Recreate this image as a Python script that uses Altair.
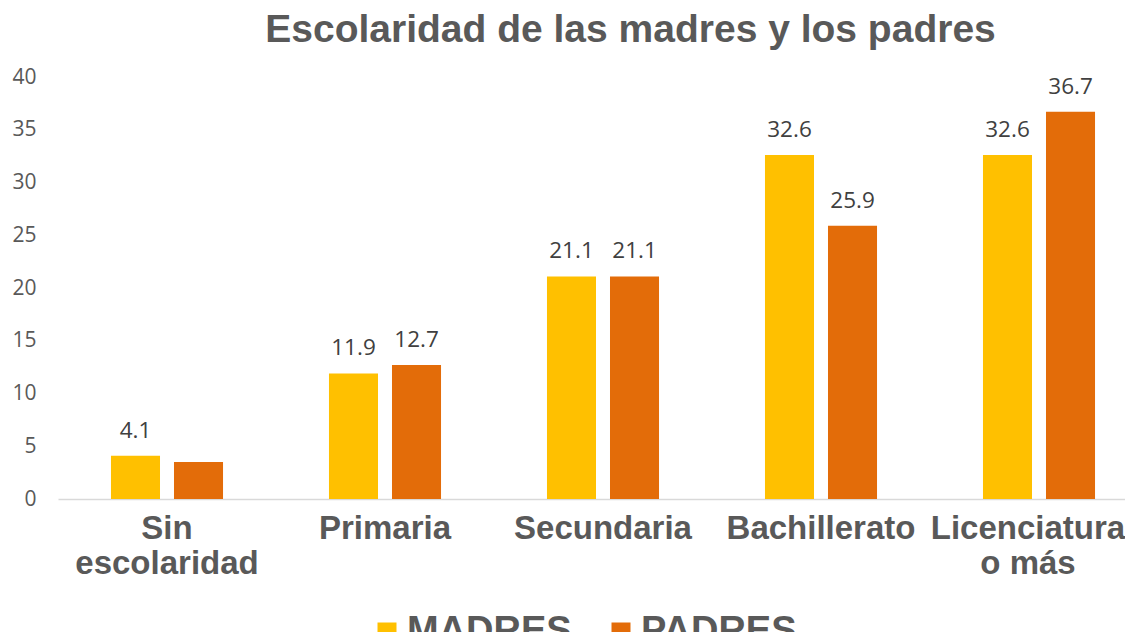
import altair as alt
import pandas as pd

categorias = ["Sin escolaridad", "Primaria", "Secundaria", "Bachillerato", "Licenciatura o más"]
madres = [4.1, 11.9, 21.1, 32.6, 32.6]
padres = [3.5, 12.7, 21.1, 25.9, 36.7]
etiqueta_madres = [True, True, True, True, True]
etiqueta_padres = [False, True, True, True, True]
series = ["MADRES", "PADRES"]
colores = ["#FFC000", "#E36C09"]

rows = []
for i, c in enumerate(categorias):
    rows.append({"cat": c, "serie": "MADRES", "valor": madres[i], "mostrar": etiqueta_madres[i]})
    rows.append({"cat": c, "serie": "PADRES", "valor": padres[i], "mostrar": etiqueta_padres[i]})
df = pd.DataFrame(rows)

label_expr = ("datum.label == 'Sin escolaridad' ? ['Sin', 'escolaridad'] : "
              "datum.label == 'Licenciatura o más' ? ['Licenciatura', 'o más'] : datum.label")

x = alt.X("cat:N", sort=categorias, title=None,
          scale=alt.Scale(range=[0, 1090], paddingInner=0.486, paddingOuter=0.243),
          axis=alt.Axis(labelAngle=0, labelFont="Liberation Sans", labelFontWeight="bold",
                        labelFontSize=33, labelColor="#595959", labelLineHeight=35,
                        labelPadding=13, ticks=False, domainColor="#D9D9D9", domainWidth=1.5,
                        labelLimit=500, labelExpr=label_expr,
                        labelOffset={"condition": {"test": "datum.value == 'Licenciatura o más'",
                                                   "value": -11}, "value": 0}))
xoff = alt.XOffset("serie:N", sort=series, scale=alt.Scale(paddingInner=0.222, paddingOuter=0))
y = alt.Y("valor:Q", title=None,
          scale=alt.Scale(domain=[0, 40], nice=False),
          axis=alt.Axis(values=list(range(0, 41, 5)), grid=False, ticks=False, domain=False,
                        labelFont="Open Sans", labelFontSize=21, labelColor="#595959",
                        labelPadding=22))

bars = alt.Chart(df).mark_bar().encode(
    x=x, xOffset=xoff, y=y,
    color=alt.Color("serie:N", sort=series,
                    scale=alt.Scale(domain=series, range=colores),
                    legend=alt.Legend(title=None, orient="none", direction="horizontal",
                                      legendX=310, legendY=536, symbolType="square",
                                      symbolSize=361, symbolStrokeWidth=0, labelFont="Liberation Sans",
                                      labelFontWeight="bold", labelFontSize=38,
                                      labelColor="#595959", labelOffset=1, columnPadding=30,
                                      padding=0, labelLimit=400)),
)

labels = alt.Chart(df).transform_filter("datum.mostrar").mark_text(
    baseline="alphabetic", dy=-18, font="Open Sans", fontSize=22.5, color="#404040"
).encode(x=x, xOffset=xoff, y=y, text=alt.Text("valor:Q", format=".1f"))

chart = alt.layer(bars, labels).properties(
    width=1067, height=422,
    padding={"left": 50, "top": 69, "right": 0, "bottom": 133},
    autosize="none",
    title=alt.TitleParams("Escolaridad de las madres y los padres", font="Liberation Sans",
                          fontWeight="bold", fontSize=39, color="#595959", anchor="middle",
                          baseline="alphabetic", offset=35, dx=39, dy=50),
).configure_view(stroke=None)

chart.save("out.html", embed_options={"renderer": "svg", "actions": False})
